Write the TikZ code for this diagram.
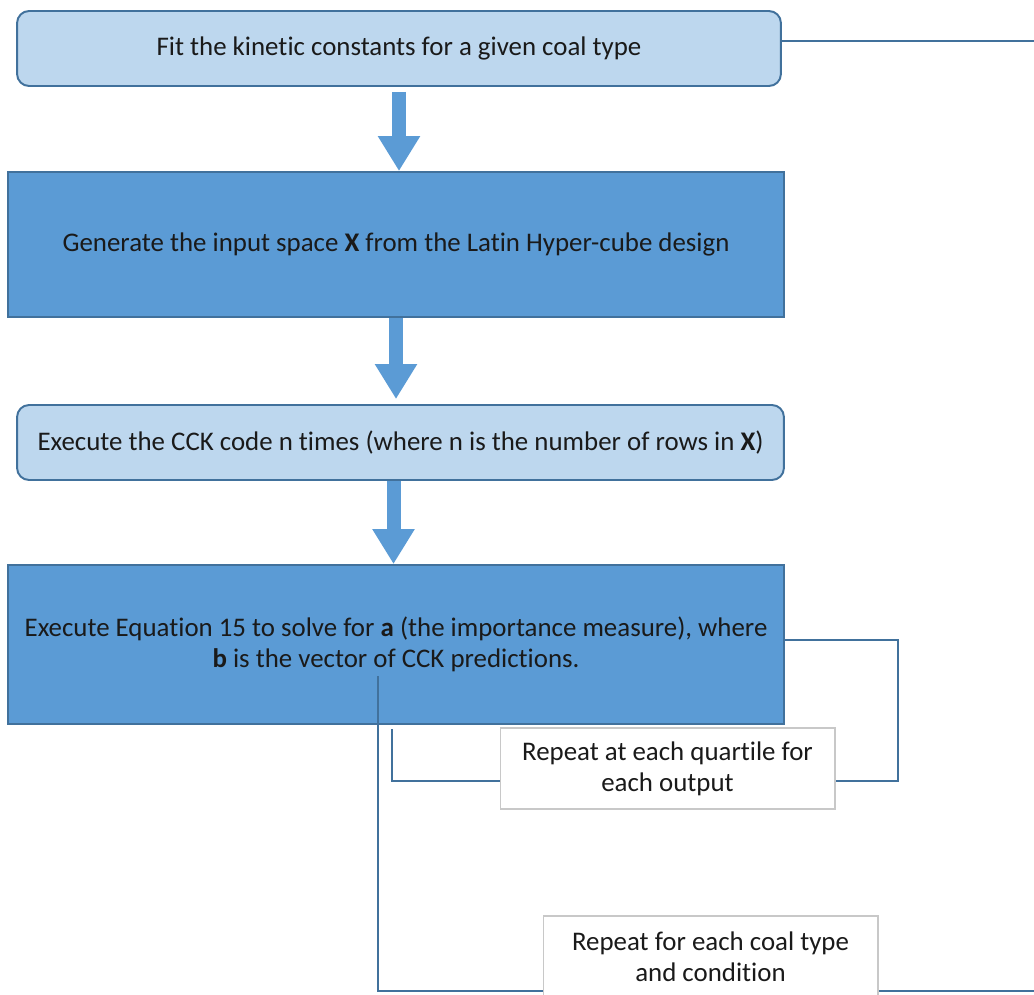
\documentclass[tikz,border=0pt]{standalone}
\usepackage{fontspec}
\setmainfont{Carlito}[Ligatures=NoCommon]
\usetikzlibrary{arrows.meta,calc}
\definecolor{lightblue}{HTML}{BDD7EE}
\definecolor{midblue}{HTML}{5B9BD5}
\definecolor{edgeblue}{HTML}{41719C}
\definecolor{notegray}{HTML}{C8C8C8}
\definecolor{textblack}{HTML}{1A1A1A}

\tikzset{
  boxtext/.style={align=center, text=textblack, font=\fontsize{15.3}{17.6}\selectfont, inner sep=0pt},
  lightbox/.style={boxtext, draw=edgeblue, line width=1.1pt, fill=lightblue, rounded corners=0.24cm},
  darkbox/.style={boxtext, draw=edgeblue, line width=1.1pt, fill=midblue},
  notebox/.style={boxtext, draw=notegray, line width=0.6pt, fill=white},
  bigarrow/.style={midblue, line width=0.28cm, -{Triangle[width=0.8cm,length=0.7cm]}},
  loopline/.style={edgeblue, line width=1.1pt}
}

\begin{document}
\begin{tikzpicture}[x=0.02cm, y=-0.02cm]
  \useasboundingbox (0,0) rectangle (1034,994);

  % main steps
  \node[lightbox, minimum width=15.28cm, minimum height=1.5cm] (fit) at (399,48.5)
    {Fit the kinetic constants for a given coal type};
  \node[darkbox, minimum width=15.52cm, minimum height=2.9cm] (lhs) at (396,244.5)
    {Generate the input space \textbf{X} from the Latin Hyper-cube design};
  \node[lightbox, minimum width=15.34cm, minimum height=1.5cm] (cck) at (400.5,442.5)
    {Execute the CCK code n times (where n is the number of rows in \textbf{X})};
  \node[darkbox, minimum width=15.52cm, minimum height=3.18cm] (eq) at (396,644.5)
    {Execute Equation 15 to solve for \textbf{a} (the importance measure), where\\
     \textbf{b} is the vector of CCK predictions.};

  % arrows between steps
  \draw[bigarrow] ($(fit.south)+(0,5)$) -- (fit.south |- lhs.north);
  \draw[bigarrow] (lhs.south) -- ($(lhs.south |- cck.north)+(0,-5)$);
  \draw[bigarrow] ($(cck.south)+(-7,0)$) -- ($(cck.south |- eq.north)+(-7,0)$);

  % loops
  \coordinate (topend) at (1034,41);
  \coordinate (qa) at (898,640);
  \coordinate (qb) at (898,781);
  \coordinate (qc) at (392,781);
  \coordinate (ca) at (378,676);
  \coordinate (cb) at (378,991);
  \coordinate (cc) at (1034,991);
  \draw[loopline] (fit.east |- topend) -- (topend);
  \draw[loopline] (eq.east |- qa) -- (qa) -- (qb) -- (qc) -- ($(qc |- eq.south)+(0,4)$);
  \draw[loopline] (ca) -- (cb) -- (cc);

  % notes
  \node[notebox, minimum width=6.7cm, minimum height=1.62cm] (quart) at (667.5,768.5)
    {Repeat at each quartile for\\ each output};
  \node[notebox, minimum width=6.7cm, minimum height=1.62cm] (coal) at (710.5,956.5)
    {Repeat for each coal type\\ and condition};
\end{tikzpicture}
\end{document}
